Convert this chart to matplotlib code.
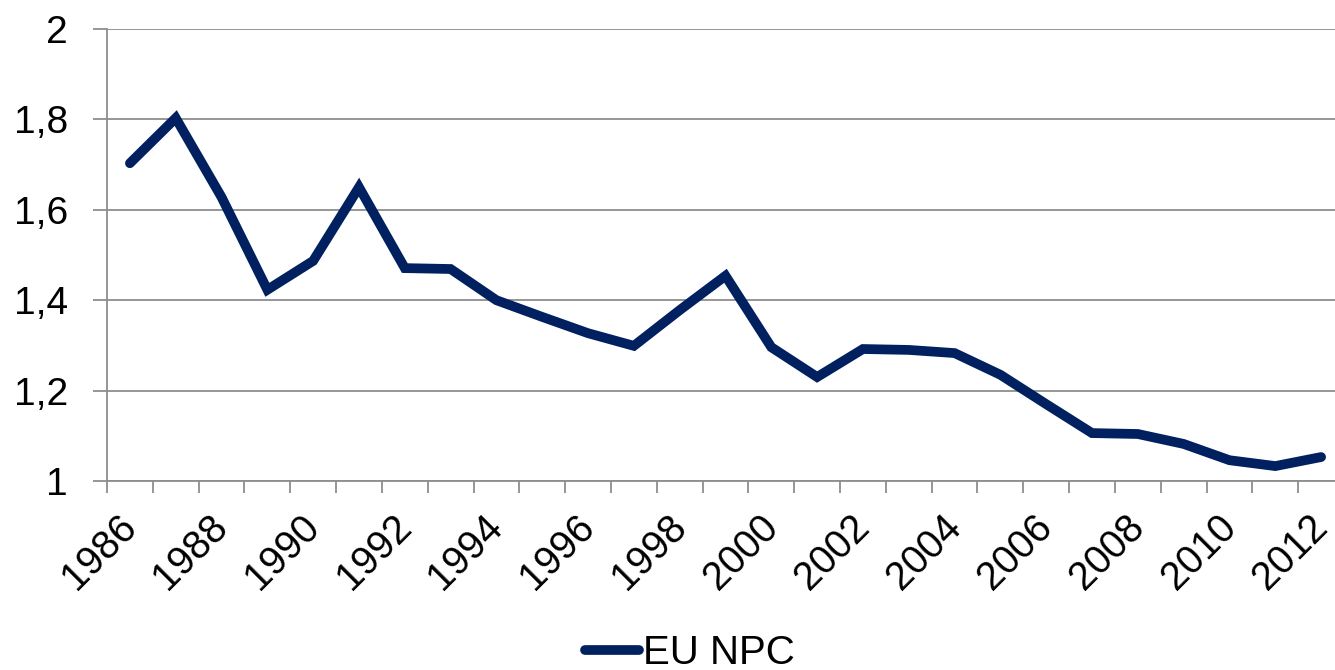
import matplotlib
matplotlib.use("Agg")
import matplotlib.pyplot as plt
from matplotlib.ticker import FixedLocator
import matplotlib.transforms as mtransforms

years = list(range(1986, 2013))
eu_npc = [1.703, 1.803, 1.628, 1.423, 1.487, 1.650, 1.471, 1.469, 1.400, 1.363,
          1.327, 1.299, 1.378, 1.454, 1.296, 1.230, 1.292, 1.290, 1.283, 1.235,
          1.170, 1.106, 1.104, 1.082, 1.046, 1.033, 1.053]
yticks = [1.0, 1.2, 1.4, 1.6, 1.8, 2.0]
ytick_labels = ["1", "1,2", "1,4", "1,6", "1,8", "2"]

plt.rcParams['font.family'] = ['Liberation Sans', 'DejaVu Sans']
W, H = 1335, 670
fig = plt.figure(figsize=(W / 100, H / 100), dpi=100)
left, right, top, bottom = 107, 1344, 29, 481
ax = fig.add_axes([left / W, 1 - bottom / H, (right - left) / W, (bottom - top) / H])

x = list(range(len(years)))
color = "#002060"
line, = ax.plot(x, eu_npc, color=color, lw=7, solid_capstyle='round',
                solid_joinstyle='miter', label="EU NPC", zorder=3)

ax.set_xlim(-0.5, len(years) - 0.5)
ax.set_ylim(1.0, 2.0)
grid_c = "#8e8e8e"
ax.set_yticks(yticks)
ax.set_yticklabels(ytick_labels)
ax.yaxis.grid(True, color=grid_c, lw=1.3)
ax.set_axisbelow(True)
for s in ["top", "right"]:
    ax.spines[s].set_visible(False)
for s in ["left", "bottom"]:
    ax.spines[s].set_color(grid_c)
    ax.spines[s].set_linewidth(1.3)
ax.tick_params(axis='y', length=10, width=1.3, color=grid_c, labelsize=28, pad=18)

# x: tick marks at category boundaries, labels at every other center
ax.xaxis.set_minor_locator(FixedLocator([i - 0.5 for i in range(len(years) + 1)]))
ax.xaxis.set_major_locator(FixedLocator([i for i in x if i % 2 == 0]))
ax.set_xticklabels([str(years[i]) for i in x if i % 2 == 0])
ax.tick_params(axis='x', which='minor', length=8.6, width=1.3, color=grid_c)
ax.tick_params(axis='x', which='major', length=0, labelsize=28.5, pad=22)
offset = mtransforms.ScaledTranslation(-13 / 100, 4 / 100, fig.dpi_scale_trans)
for lab in ax.get_xticklabels():
    lab.set_rotation(45)
    lab.set_ha('right')
    lab.set_va('top')
    lab.set_rotation_mode('anchor')
    lab.set_transform(lab.get_transform() + offset)

leg = fig.legend(handles=[line], loc='center', bbox_to_anchor=(690 / W, 1 - 653 / H),
                 frameon=False, fontsize=29, handlelength=1.35, handletextpad=0.1,
                 borderpad=0)

fig.savefig("out.png", dpi=100)
